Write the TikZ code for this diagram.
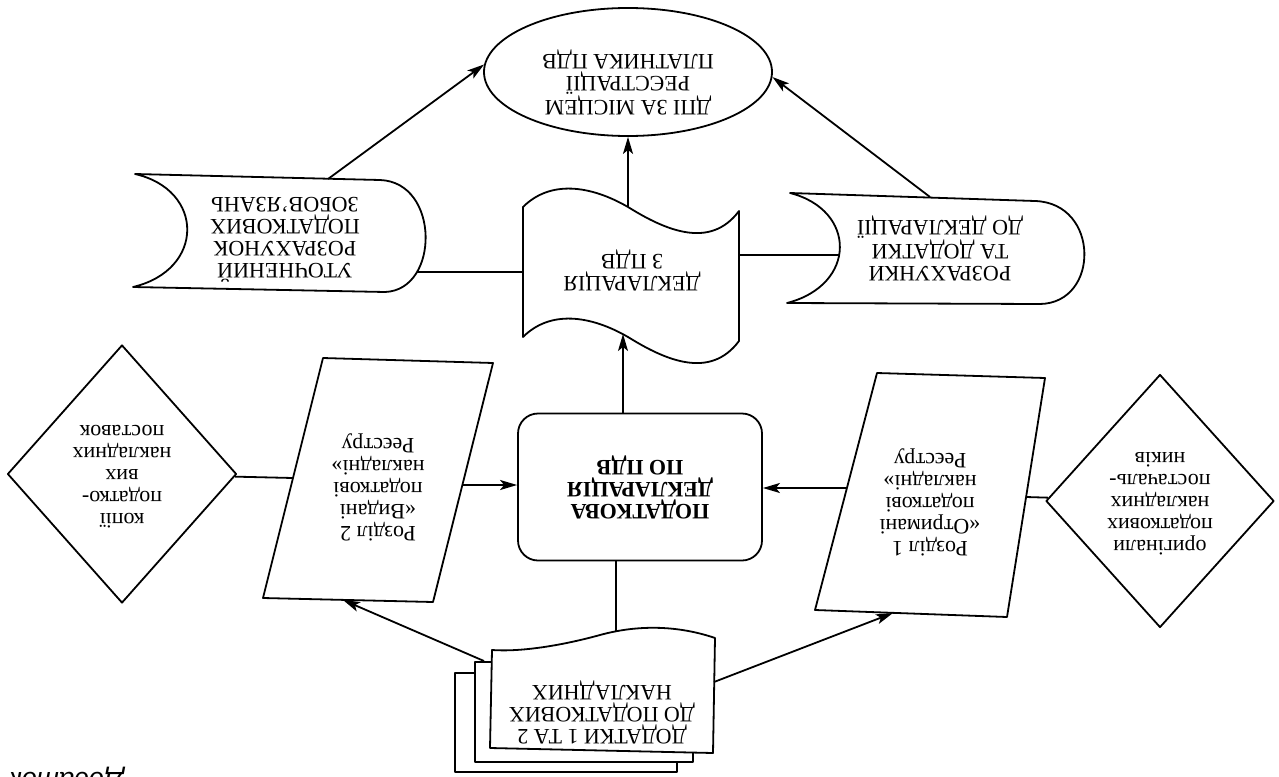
\documentclass[tikz,border=0pt]{standalone}
\usepackage{fontspec}
\setmainfont{Liberation Serif}
\setsansfont{Liberation Sans}
\usepackage{graphicx}
\usetikzlibrary{shapes.geometric,arrows.meta}

% text printed upside down, lines centred
\newcommand{\upside}[1]{\rotatebox[origin=c]{180}{\begin{tabular}{@{}c@{}}#1\end{tabular}}}

\tikzset{
    txt/.style  = {font=\fontsize{22}{22}\selectfont, inner sep=0pt},
    box/.style  = {draw, txt},
    link/.style = {},
    flow/.style = {-{Stealth[length=17pt, width=10pt, inset=4pt]}},
}

\begin{document}
\begin{tikzpicture}[x=1pt, y=-1pt, line width=1.8pt, line join=round]
    \clip (0,0) rectangle (1279,776);

    % DPI
    \node [box, ellipse, minimum width=288pt, minimum height=128pt] (dpi) at (628,72) {};
    \node [txt] (dpiT) at (628,82) {\upside{ДПІ ЗА МІСЦЕМ\\ РЕЄСТРАЦІЇ\\ ПЛАТНИКА ПДВ}};

    % declaration with wavy edges
    \draw (523,207) .. controls (550,180) and (590,185) .. (628,207) .. controls (665,230) and (710,250) .. (739,211)
          -- (739,341) .. controls (710,380) and (665,360) .. (628,337) .. controls (590,315) and (550,310) .. (523,337) -- cycle;
    \node [txt] (tax) at (632,270) {\upside{ДЕКЛАРАЦІЯ\\ З ПДВ}};
    \coordinate (taxN) at (628,207);
    \coordinate (taxS) at (623,334);
    \coordinate (taxW) at (523,272);
    \coordinate (taxE) at (739,255);

    % stored data, left
    \draw (135,174) -- (380,180) .. controls (440,182) and (440,290) .. (385,292)
          -- (133,287) .. controls (205,270) and (205,190) .. (135,174) -- cycle;
    \node [txt] (utoch) at (285,237) {\upside{УТОЧНЕНИЙ\\ РОЗРАХУНОК\\ ПОДАТКОВИХ\\ ЗОБОВ’ЯЗАНЬ}};
    \coordinate (utochN) at (328,179);
    \coordinate (utochE) at (417,272);

    % stored data, right
    \draw (790,193) -- (1035,201) .. controls (1100,203) and (1100,303) .. (1040,304)
          -- (787,303) .. controls (857,285) and (857,210) .. (790,193) -- cycle;
    \node [txt] (rozr) at (940,248) {\upside{РОЗРАХУНКИ\\ ТА ДОДАТКИ\\ ДО ДЕКЛАРАЦІЇ}};
    \coordinate (rozrN) at (930,197);
    \coordinate (rozrW) at (840,255);

    % main box
    \node [box, rounded corners=20pt, minimum width=244pt, minimum height=147pt, font=\fontsize{22}{22}\selectfont\bfseries] (pd) at (640,487)
          {\upside{ПОДАТКОВА\\ ДЕКЛАРАЦІЯ\\ ПО ПДВ}};

    % section 2
    \draw (323,358) -- (493,363) -- (433,602) -- (263,598) -- cycle;
    \node [txt] (rozd2) at (378,487) {\upside{Розділ 2\\ «Видані\\ податкові\\ накладні»\\ Реєстру}};
    \coordinate (rozd2W) at (293,478);
    \coordinate (rozd2E) at (462,485);
    \coordinate (rozd2S) at (343,600);
    \node [box, diamond, minimum width=229pt, minimum height=258pt] (kopii) at (122,474)
          {\upside{копії\\ податко-\\ вих\\ накладних\\ поставок}};

    % section 1
    \draw (877,373) -- (1045,378) -- (1007,617) -- (815,610) -- cycle;
    \node [txt] (rozd1) at (930,502) {\upside{Розділ 1\\ «Отримані\\ податкові\\ накладні»\\ Реєстру}};
    \coordinate (rozd1W) at (846,488);
    \coordinate (rozd1E) at (1026,497);
    \coordinate (rozd1S) at (893,613);
    \node [box, diamond, minimum width=228pt, minimum height=253pt] (orig) at (1160,501)
          {\upside{оригінали\\ податкових\\ накладних\\ постачаль-\\ ників}};

    % stack of appendices
    \draw [fill=white] (455,673) rectangle (677,772);
    \draw [fill=white] (475,662) rectangle (693,762);
    \draw [fill=white] (492,650) -- (490,748) -- (713,753) -- (715,638)
          .. controls (680,626) and (640,624) .. (600,635) .. controls (560,646) and (520,652) .. (492,650) -- cycle;
    \node [txt] (dod) at (602,712) {\upside{ДОДАТКИ 1 ТА 2\\ ДО ПОДАТКОВИХ\\ НАКЛАДНИХ}};
    \coordinate (dodN) at (616,632);
    \coordinate (dodW) at (484,661);
    \coordinate (dodE) at (714,682);

    \node [font=\sffamily\itshape\fontsize{27}{27}\selectfont, rotate=180, anchor=base, inner sep=0pt] (dodatok) at (66,772) {Додаток};

    % connectors
    \draw [flow] (utochN) -- (dpi.177);
    \draw [flow] (rozrN)  -- (dpi.358);
    \draw [flow] (taxN)   -- (dpi);
    \draw [link] (taxW)   -- (utochE);
    \draw [link] (taxE)   -- (rozrW);
    \draw [flow] (pd.north -| taxS) -- (taxS);
    \draw [link] (pd.south -| dodN) -- (dodN);
    \draw [link] (kopii)  -- (rozd2W);
    \draw [flow] (rozd2E) -- (rozd2E -| pd.west);
    \draw [link] (orig)   -- (rozd1E);
    \draw [flow] (rozd1W) -- (rozd1W -| pd.east);
    \draw [flow] (dodW)   -- (rozd2S);
    \draw [flow] (dodE)   -- (rozd1S);
\end{tikzpicture}
\end{document}
